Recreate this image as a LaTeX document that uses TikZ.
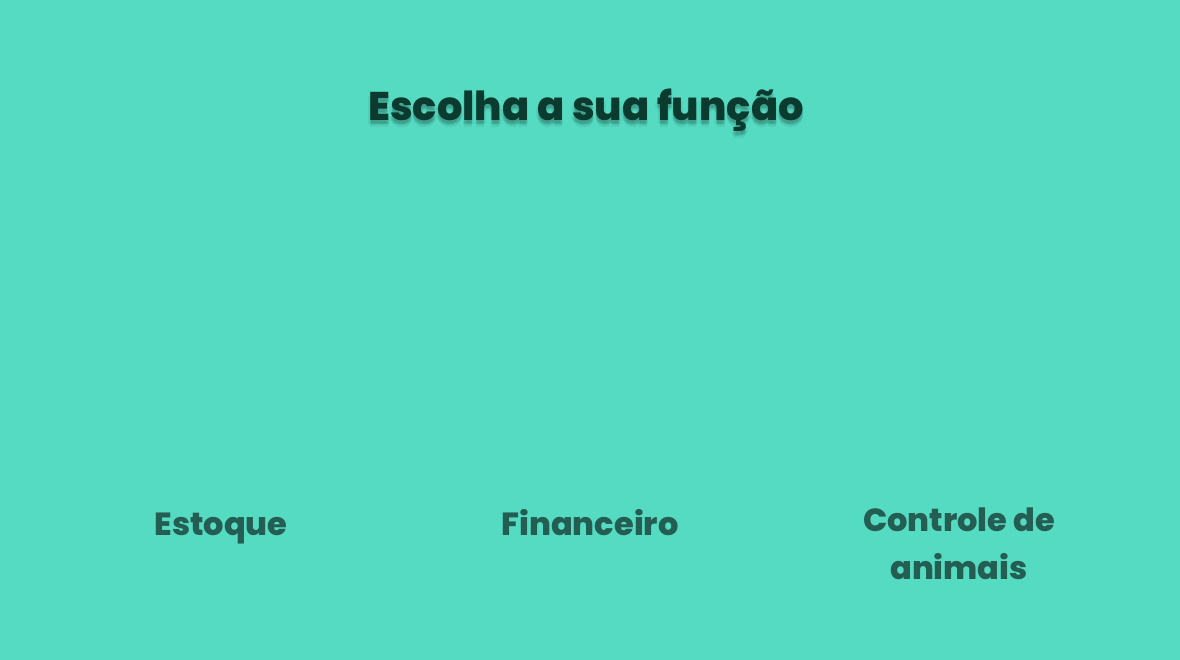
\documentclass[tikz,border=0pt]{standalone}
\usepackage{fontspec}
\setmainfont{Poppins}[BoldFont={* ExtraBold}]
\definecolor{bg}{HTML}{55DBC2}
\definecolor{titlec}{HTML}{0B3A2E}
\definecolor{labelc}{HTML}{245E52}
\begin{document}
\begin{tikzpicture}[x=1pt,y=-1pt,
  title/.style={font=\fontsize{40}{44}\selectfont\bfseries, text=titlec, inner sep=0pt, anchor=base},
  shadowt/.style={font=\fontsize{40}{44}\selectfont\bfseries, text=black, text opacity=0.06, inner sep=0pt, anchor=base},
  label/.style={font=\fontsize{32}{48}\selectfont\bfseries, text=labelc, align=center, inner sep=0pt, anchor=base}]
\fill[bg] (0,0) rectangle (1180,660);
\useasboundingbox (0,0) rectangle (1180,660);
\foreach \dx/\dy in {0/3,0/5,1.5/4,-1.5/4,0/7}{
  \node[shadowt] at (586+\dx,121+\dy) {Escolha a sua função};
}
\node[title] (t) at (586,121) {Escolha a sua função};
\node[label] (a) at (221,535) {Estoque};
\node[label] (b) at (590,535) {Financeiro};
\node[label, anchor=north] (c) at (959,508) {Controle de\\animais};
\end{tikzpicture}
\end{document}
